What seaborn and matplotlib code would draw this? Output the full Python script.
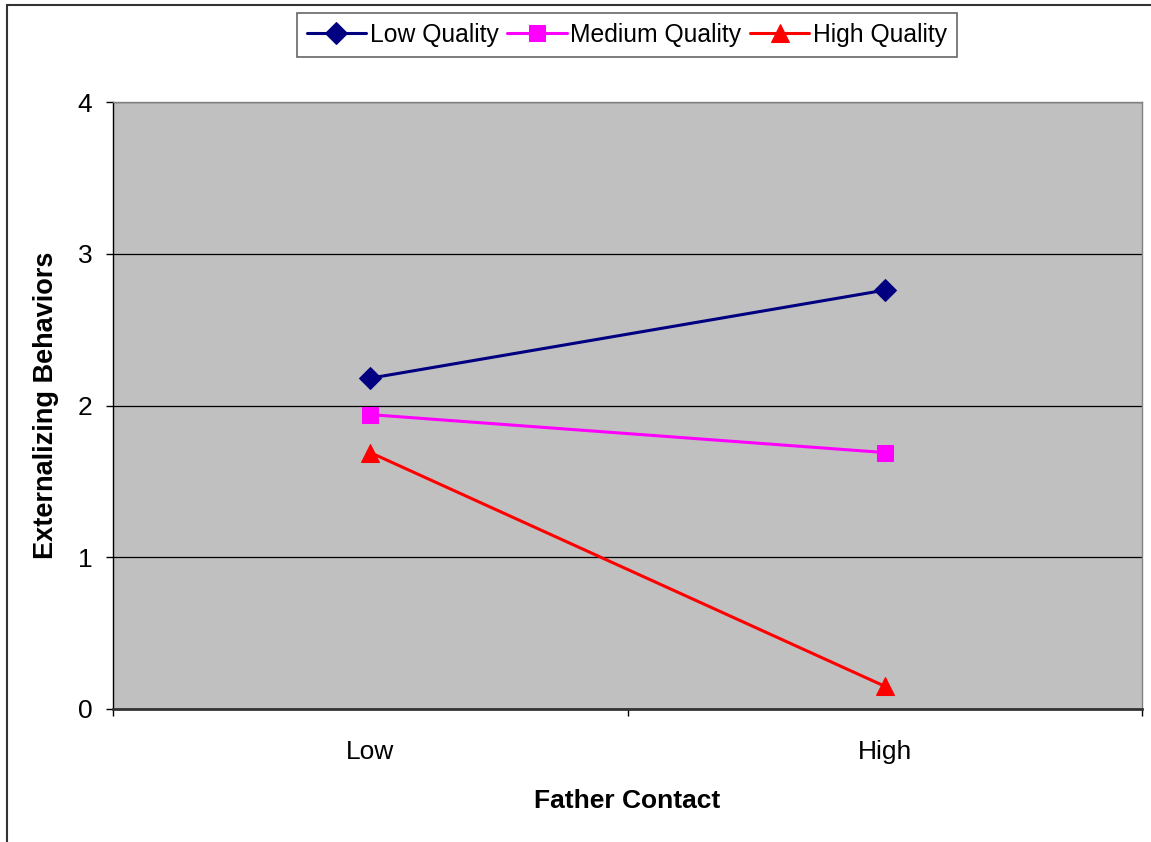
import pandas as pd
import matplotlib.pyplot as plt
import seaborn as sns
from matplotlib.patches import Rectangle

# Data
contact = ['Low', 'High']
low_quality = [2.18, 2.76]
medium_quality = [1.94, 1.69]
high_quality = [1.69, 0.15]
series_names = ['Low Quality', 'Medium Quality', 'High Quality']

df = pd.DataFrame({
    'Father Contact': contact * 3,
    'Externalizing Behaviors': low_quality + medium_quality + high_quality,
    'Quality': [s for s in series_names for _ in contact],
})

colors = {'Low Quality': '#000080', 'Medium Quality': '#FF00FF', 'High Quality': '#FF0000'}
markers = {'Low Quality': 'D', 'Medium Quality': 's', 'High Quality': '^'}
msizes = {'Low Quality': 9, 'Medium Quality': 10, 'High Quality': 11}

sns.set_style('white')
plt.rcParams['font.family'] = ['Liberation Sans', 'DejaVu Sans']
plt.rcParams['text.color'] = 'black'
plt.rcParams['axes.labelcolor'] = 'black'
plt.rcParams['xtick.color'] = 'black'
plt.rcParams['ytick.color'] = 'black'

fig = plt.figure(figsize=(11.51, 8.42), dpi=100)
ax = fig.add_axes([113 / 1151, 133 / 842, 1029 / 1151, 607 / 842])
ax.set_facecolor('#C0C0C0')

for name in series_names:
    sub = df[df['Quality'] == name]
    sns.lineplot(data=sub, x='Father Contact', y='Externalizing Behaviors', ax=ax,
                 color=colors[name], marker=markers[name], markersize=msizes[name],
                 markeredgecolor=colors[name], linewidth=2.2, label=name, legend=False,
                 zorder=3)

ax.set_xlim(-0.5, 1.5)
ax.set_ylim(0, 4)
ax.set_yticks([0, 1, 2, 3, 4])
ax.yaxis.grid(True, color='black', linewidth=0.9)
ax.set_axisbelow(True)

# category labels without tick marks, tick marks between categories
ax.set_xticks([0, 1])
ax.set_xticklabels(contact)
ax.set_xticks([-0.5, 0.5, 1.5], minor=True)
ax.tick_params(axis='x', which='major', length=0, pad=22, labelsize=19)
ax.tick_params(axis='x', which='minor', length=5, width=1, color='black', direction='out', bottom=True)
ax.tick_params(axis='y', length=5, width=1, color='black', direction='out', left=True, pad=10, labelsize=19)

for side in ['top', 'right']:
    ax.spines[side].set_color('#808080')
    ax.spines[side].set_linewidth(1)
ax.spines['left'].set_color('black')
ax.spines['left'].set_linewidth(1)
ax.spines['bottom'].set_color('#333333')
ax.spines['bottom'].set_linewidth(2)

ax.set_xlabel('Father Contact', fontsize=19, fontweight='bold', labelpad=18)
ax.set_ylabel('Externalizing Behaviors', fontsize=19.5, fontweight='bold', labelpad=13)

handles, labels = ax.get_legend_handles_labels()
for h in handles:
    h.set_markersize(h.get_markersize() * 1.2)
leg = fig.legend(handles, labels, loc='center', bbox_to_anchor=(627 / 1151, 1 - 35 / 842),
                 ncol=3, fontsize=17.8, frameon=True, fancybox=False, edgecolor='#404040',
                 handlelength=2.4, handletextpad=0.15, columnspacing=0.35,
                 borderpad=0.4, borderaxespad=0)
leg.get_frame().set_linewidth(1.2)

# outer chart border
fig.add_artist(Rectangle((7 / 1151, -0.1), 1.2, 1.1 - 5 / 842, transform=fig.transFigure,
                         fill=False, edgecolor='#333333', linewidth=1.5))

fig.savefig('out.png', dpi=100)
